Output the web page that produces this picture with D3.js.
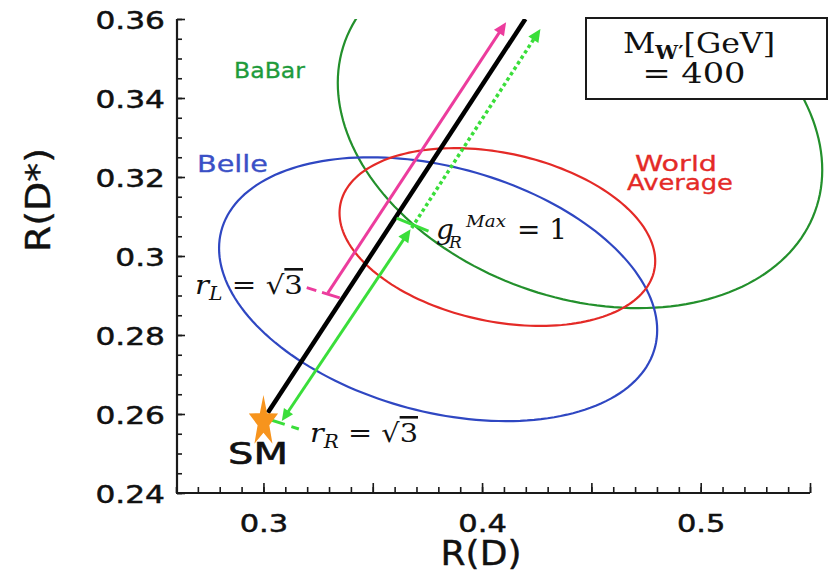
<!DOCTYPE html>
<html>
<head>
<meta charset="utf-8">
<script src="https://cdn.jsdelivr.net/npm/d3@7"></script>
<style>
  body { margin: 0; background: #fff; }
  svg { display: block; }
</style>
</head>
<body>
<svg id="chart" width="838" height="572"></svg>
<script>
// 1-sigma regions of the measurements in the R(D) – R(D*) plane
const experiments = ["BaBar", "Belle", "World Average"];
const centerRD    = [0.4448, 0.3799, 0.4070];
const centerRDs   = [0.3328, 0.2916, 0.3048];
const sigmaRD     = [0.1108, 0.1002, 0.0722];
const sigmaRDs    = [0.0460, 0.0334, 0.0225];
const correlation = [-0.24, -0.31, -0.27];

// Standard Model prediction
const smPoint = [0.300, 0.2580];

// W' trajectories (R(D), R(D*)) : start and end
const coupledLine  = [[0.3020, 0.2603], [0.4198, 0.3600]];
const leftArrow    = [[0.3294, 0.2906], [0.4110, 0.3592]];
const rightArrow   = [[0.3084, 0.2582], [0.3673, 0.3068]];
const rightDotted  = [[0.3678, 0.3071], [0.4267, 0.3575]];

// leader lines from the labels to the trajectories
const leaderL   = [[0.3198, 0.2920], [0.3349, 0.2894]];
const leaderR   = [[0.3006, 0.2590], [0.3162, 0.2562]];
const leaderMax = [[0.3609, 0.3096], [0.3755, 0.3063]];

// axis ticks
const xMinorTicks = d3.range(26, 56).map(v => v / 100);
const xMajorTicks = [0.30, 0.35, 0.40, 0.45, 0.50, 0.55];
const xTickLabels = [0.3, 0.4, 0.5];
const yMinorTicks = d3.range(0, 25).map(i => 0.24 + i * 0.005);
const yTickLabels = [0.24, 0.26, 0.28, 0.30, 0.32, 0.34, 0.36];

const mass = "400";

const colors = {
  "BaBar": "#23902c",
  "Belle": "#2f47c2",
  "World Average": "#e42a27"
};
const pink = "#ec3c9d";
const lime = "#3ade3a";
const star = "#f7941d";

const svg = d3.select("#chart");
const x = d3.scaleLinear().domain([0.26, 0.55]).range([176, 810]);
const y = d3.scaleLinear().domain([0.24, 0.36]).range([493, 19]);

svg.append("defs").append("clipPath").attr("id", "plot")
  .append("rect").attr("x", 176).attr("y", 19).attr("width", 662).attr("height", 474);

const sans = "'DejaVu Sans', Verdana, sans-serif";
const serif = "'DejaVu Serif', 'Liberation Serif', serif";
const ink = "#111";

function stretch(sel, factor) {
  sel.each(function () {
    const w = this.getComputedTextLength();
    d3.select(this).attr("textLength", w * factor).attr("lengthAdjust", "spacingAndGlyphs");
  });
}
function fitWidth(sel, w) {
  sel.attr("textLength", w).attr("lengthAdjust", "spacingAndGlyphs");
}
function heavy(sel, w) {
  sel.attr("stroke", sel.attr("fill")).attr("stroke-width", w);
}
const trimZero = d => String(+d.toFixed(2));

// ---- axes ----
const axisColor = "#1a1a1a";
function styleAxis(g) {
  g.select(".domain").remove();
  g.selectAll("line").attr("stroke", axisColor).attr("stroke-width", 1.6);
}
svg.append("g").attr("transform", "translate(0,493)")
  .call(d3.axisBottom(x).tickValues(xMinorTicks).tickSize(-6).tickFormat(""))
  .call(styleAxis);
svg.append("g").attr("transform", "translate(0,493)")
  .call(d3.axisBottom(x).tickValues(xMajorTicks).tickSize(-10).tickFormat(""))
  .call(styleAxis);
const xl = svg.append("g").attr("transform", "translate(0,493)")
  .call(d3.axisBottom(x).tickValues(xTickLabels).tickSize(0).tickPadding(21).tickFormat(trimZero))
  .call(styleAxis);
xl.selectAll("text").attr("font-family", sans).attr("font-size", 25).attr("fill", ink)
  .attr("stroke", ink).attr("stroke-width", 0.5);
stretch(xl.selectAll("text"), 1.22);

svg.append("g").attr("transform", "translate(177,0)")
  .call(d3.axisLeft(y).tickValues(yMinorTicks).tickSize(-5).tickFormat(""))
  .call(styleAxis);
svg.append("g").attr("transform", "translate(177,0)")
  .call(d3.axisLeft(y).tickValues(yTickLabels).tickSize(-8).tickFormat(""))
  .call(styleAxis);
const yl = svg.append("g").attr("transform", "translate(177,0)")
  .call(d3.axisLeft(y).tickValues(yTickLabels).tickSize(0).tickPadding(12).tickFormat(trimZero))
  .call(styleAxis);
yl.selectAll("text").attr("font-family", sans).attr("font-size", 25).attr("fill", ink)
  .attr("stroke", ink).attr("stroke-width", 0.5).attr("dy", "0.36em");
stretch(yl.selectAll("text"), 1.25);

svg.append("line").attr("x1", x(0.26)).attr("x2", x(0.55)).attr("y1", y(0.24)).attr("y2", y(0.24))
  .attr("stroke", axisColor).attr("stroke-width", 2.2);
svg.append("line").attr("x1", x(0.26) + 1).attr("x2", x(0.26) + 1).attr("y1", y(0.24)).attr("y2", y(0.36))
  .attr("stroke", axisColor).attr("stroke-width", 2.2);

// axis titles
const xt = svg.append("text").attr("x", 481).attr("y", 565).attr("text-anchor", "middle")
  .attr("font-family", sans).attr("font-size", 34).attr("fill", ink).text("R(D)");
fitWidth(xt, 81);
heavy(xt, 0.4);
const yt = svg.append("text").attr("transform", "translate(50,200) rotate(-90)").attr("text-anchor", "middle")
  .attr("font-family", sans).attr("font-size", 34).attr("fill", ink).text("R(D*)");
fitWidth(yt, 104);
heavy(yt, 0.4);

// ---- measurement ellipses ----
const plot = svg.append("g").attr("clip-path", "url(#plot)");
const tSteps = d3.range(0, 361, 2).map(d => d * Math.PI / 180);
experiments.forEach((name, i) => {
  const delta = Math.acos(correlation[i]);
  const pts = tSteps.map(t => [
    x(centerRD[i] + sigmaRD[i] * Math.cos(t)),
    y(centerRDs[i] + sigmaRDs[i] * Math.cos(t - delta))
  ]);
  plot.append("path").attr("d", d3.line()(pts)).attr("fill", "none")
    .attr("stroke", colors[name]).attr("stroke-width", 2.2);
});

// ---- trajectories ----
function px(p) { return [x(p[0]), y(p[1])]; }
function head(tip, from, len, half) {
  const [tx, ty] = px(tip), [fx, fy] = px(from);
  const d = Math.hypot(tx - fx, ty - fy), ux = (tx - fx) / d, uy = (ty - fy) / d;
  const bx = tx - ux * len, by = ty - uy * len;
  return [[tx, ty], [bx - uy * half, by + ux * half], [bx + uy * half, by - ux * half]];
}
function shorten(tip, from, by) {
  const [tx, ty] = px(tip), [fx, fy] = px(from);
  const d = Math.hypot(tx - fx, ty - fy);
  return [tx - (tx - fx) / d * by, ty - (ty - fy) / d * by];
}
function arrow(seg, color, opts) {
  const [a, b] = seg;
  const p0 = opts.start ? shorten(a, b, 8) : px(a);
  const p1 = opts.end ? shorten(b, a, 8) : px(b);
  plot.append("line").attr("x1", p0[0]).attr("y1", p0[1]).attr("x2", p1[0]).attr("y2", p1[1])
    .attr("stroke", color).attr("stroke-width", opts.width)
    .attr("stroke-dasharray", opts.dash || null);
  if (opts.end) plot.append("polygon").attr("points", head(b, a, 13, 6).join(" ")).attr("fill", color);
  if (opts.start) plot.append("polygon").attr("points", head(a, b, 12, 5.5).join(" ")).attr("fill", color);
}

plot.append("line")
  .attr("x1", x(coupledLine[0][0])).attr("y1", y(coupledLine[0][1]))
  .attr("x2", x(coupledLine[1][0])).attr("y2", y(coupledLine[1][1]))
  .attr("stroke", "#000").attr("stroke-width", 4.5);

arrow(leftArrow, pink, { end: true, width: 3 });
arrow(rightArrow, lime, { start: true, end: true, width: 3 });
arrow(rightDotted, lime, { end: true, width: 3.5, dash: "3.5,3" });

function leader(seg, color, dash) {
  svg.append("line")
    .attr("x1", x(seg[0][0])).attr("y1", y(seg[0][1]))
    .attr("x2", x(seg[1][0])).attr("y2", y(seg[1][1]))
    .attr("stroke", color).attr("stroke-width", 3)
    .attr("stroke-dasharray", dash);
}
leader(leaderL, pink, "10,6,200");
leader(leaderR, lime, "21,7,8");
leader(leaderMax, lime, null);

// SM star
const R = 27, squeeze = 0.57;
const starPts = d3.range(10).map(k => {
  const a = -Math.PI / 2 + k * Math.PI / 5, r = k % 2 === 0 ? R : R * 0.4;
  return [x(smPoint[0]) + Math.cos(a) * r * squeeze, y(smPoint[1]) + Math.sin(a) * r];
});
svg.append("polygon").attr("points", starPts.join(" ")).attr("fill", star);

const sm = svg.append("text").attr("x", 258).attr("y", 464).attr("text-anchor", "middle")
  .attr("font-family", sans).attr("font-size", 30).attr("fill", ink).text("SM");
fitWidth(sm, 60);
heavy(sm, 0.6);

// experiment labels
const lb = svg.append("text").attr("x", 234).attr("y", 78).attr("font-family", sans).attr("font-size", 22)
  .attr("fill", "#1e9b3c").text("BaBar");
fitWidth(lb, 71);
heavy(lb, 0.3);
const lbe = svg.append("text").attr("x", 197).attr("y", 172).attr("font-family", sans).attr("font-size", 23)
  .attr("fill", "#3a50c6").text("Belle");
fitWidth(lbe, 71);
heavy(lbe, 0.3);
const w1 = svg.append("text").attr("x", 676).attr("y", 171).attr("text-anchor", "middle")
  .attr("font-family", sans).attr("font-size", 21).attr("fill", "#e42a27").text("World");
fitWidth(w1, 82);
heavy(w1, 0.3);
const w2 = svg.append("text").attr("x", 680).attr("y", 190).attr("text-anchor", "middle")
  .attr("font-family", sans).attr("font-size", 21).attr("fill", "#e42a27").text("Average");
fitWidth(w2, 106);
heavy(w2, 0.3);

// coupling labels
function rootLabel(x0, y0, sub) {
  const t = svg.append("text").attr("x", x0).attr("y", y0).attr("font-family", serif)
    .attr("font-size", 26).attr("fill", ink);
  t.append("tspan").attr("font-style", "italic").text("r");
  t.append("tspan").attr("font-style", "italic").attr("font-size", 18).attr("dy", 6).text(sub);
  t.append("tspan").attr("dy", -6).text(" = √");
  t.append("tspan").style("text-decoration", "overline").text("3");
  fitWidth(t, 108);
}
rootLabel(195, 294, "L");
rootLabel(310, 442, "R");

const gm = svg.append("g").attr("font-family", serif).attr("fill", ink);
gm.append("text").attr("x", 436).attr("y", 239).attr("font-size", 28).attr("font-style", "italic").text("g");
gm.append("text").attr("x", 449).attr("y", 248).attr("font-size", 17).attr("font-style", "italic").text("R");
const mx = gm.append("text").attr("x", 466).attr("y", 227).attr("font-size", 17).attr("font-style", "italic").text("Max");
fitWidth(mx, 40);
const eq = gm.append("text").attr("x", 517).attr("y", 239).attr("font-size", 27).text("= 1");
fitWidth(eq, 50);

// W' mass box
svg.append("rect").attr("x", 586).attr("y", 18).attr("width", 241).attr("height", 81)
  .attr("fill", "#fff").attr("stroke", "#1a1a1a").attr("stroke-width", 2);
const m1 = svg.append("text").attr("x", 699).attr("y", 53).attr("text-anchor", "middle")
  .attr("font-family", serif).attr("font-size", 28).attr("fill", ink);
m1.append("tspan").text("M");
m1.append("tspan").attr("font-size", 18).attr("font-weight", "bold").attr("dy", 6).text("W′");
m1.append("tspan").attr("dy", -6).text("[GeV]");
fitWidth(m1, 152);
const m2 = svg.append("text").attr("x", 694).attr("y", 83).attr("text-anchor", "middle")
  .attr("font-family", serif).attr("font-size", 27).attr("fill", ink).text("= " + mass);
fitWidth(m2, 103);
</script>
</body>
</html>
